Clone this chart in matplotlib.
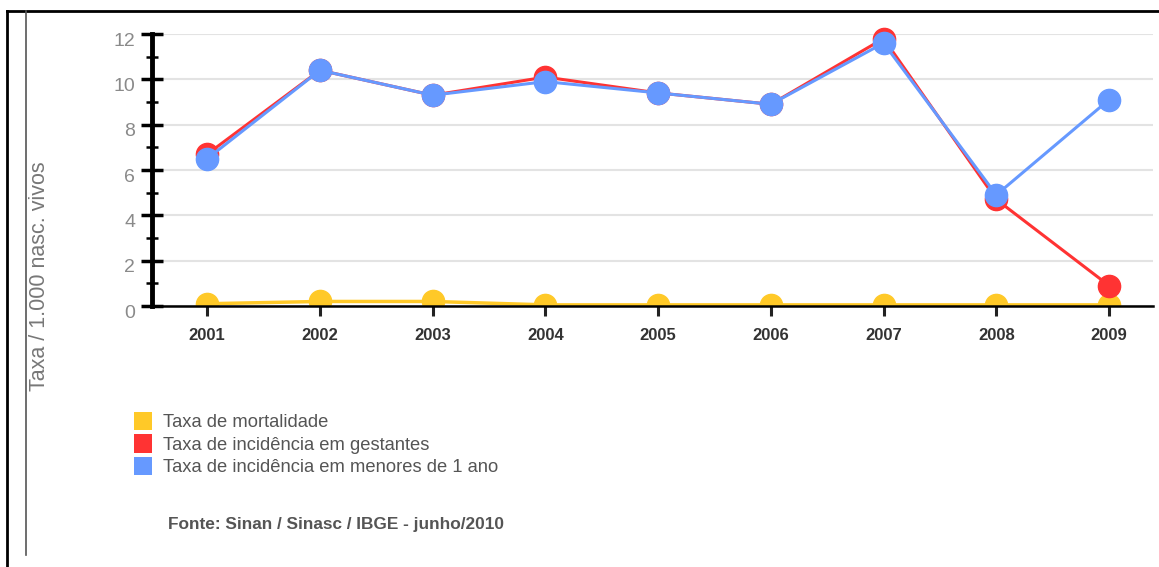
import matplotlib
matplotlib.use("Agg")
import matplotlib.pyplot as plt
from matplotlib.lines import Line2D
from matplotlib.patches import Patch
from matplotlib.ticker import MultipleLocator
from matplotlib.transforms import ScaledTranslation

plt.rcParams['font.family'] = ['Liberation Sans', 'DejaVu Sans']

years = [2001, 2002, 2003, 2004, 2005, 2006, 2007, 2008, 2009]
mortalidade = [0.1, 0.2, 0.2, 0.05, 0.05, 0.05, 0.05, 0.05, 0.05]
gestantes = [6.7, 10.4, 9.3, 10.1, 9.4, 8.9, 11.8, 4.7, 0.9]
menores = [6.5, 10.4, 9.3, 9.9, 9.4, 8.9, 11.6, 4.9, 9.1]
labels = ["Taxa de mortalidade", "Taxa de incidência em gestantes",
          "Taxa de incidência em menores de 1 ano"]
y_label = "Taxa / 1.000 nasc. vivos"
source = "Fonte: Sinan / Sinasc / IBGE - junho/2010"

YELLOW = "#FFC928"
RED = "#FF3333"
BLUE = "#6699FF"

W, H = 1159, 567
fig = plt.figure(figsize=(W / 100, H / 100), dpi=100)

def fx(px):
    return px / W

def fy(py):
    return 1 - py / H

ax = fig.add_axes([fx(152), fy(306), fx(1153) - fx(152), fy(34) - fy(306)])
ax.set_xlim(2000.51, 2009.39)
ax.set_ylim(0, 12)

ax.yaxis.set_major_locator(MultipleLocator(2))
ax.yaxis.set_minor_locator(MultipleLocator(1))
ax.grid(axis='y', which='major', color='#e3e3e3', linewidth=1.5, zorder=0)
ax.set_axisbelow(True)

ax.plot(years, mortalidade, color=YELLOW, lw=2.5, marker='o', ms=16, zorder=3)
ax.plot(years, gestantes, color=RED, lw=2.2, marker='o', ms=16, zorder=4, clip_on=False)
ax.plot(years, menores, color=BLUE, lw=2.2, marker='o', ms=16, zorder=5, clip_on=False)

for s in ['top', 'right']:
    ax.spines[s].set_visible(False)
ax.spines['left'].set_linewidth(3.5)
ax.spines['left'].set_color('black')
ax.spines['bottom'].set_linewidth(1.8)
ax.spines['bottom'].set_color('black')
ax.spines['bottom'].set_zorder(6)

ax.set_xticks(years)
ax.set_xticklabels([str(y) for y in years], fontsize=12, fontweight='bold', color='#333333')
ax.tick_params(axis='x', direction='inout', length=14, width=2.2, color='#222222', pad=9)
ax.tick_params(axis='y', which='major', direction='inout', length=16, width=2.5,
               color='black', labelsize=14, labelcolor='#8a8a8a', pad=4)
ax.tick_params(axis='y', which='minor', direction='inout', length=9, width=1.8, color='black')
shift = ScaledTranslation(0, -5 / 100, fig.dpi_scale_trans)
for tick in ax.yaxis.get_major_ticks():
    tick.label1.set_transform(tick.label1.get_transform() + shift)

fig.text(fx(40), fy(276), y_label, rotation=90, ha='center', va='center',
         fontsize=15.5, color='#777777')

handles = [Patch(facecolor=c, edgecolor='none') for c in (YELLOW, RED, BLUE)]
fig.legend(handles, labels, loc='upper left', bbox_to_anchor=(fx(134), fy(412)),
           frameon=False, fontsize=13.2, handlelength=1.0, handleheight=1.15,
           handletextpad=0.6, labelspacing=0.17, borderaxespad=0, borderpad=0,
           labelcolor='#555555')

fig.text(fx(168), fy(525), source, ha='left', va='center', fontsize=12.4,
         fontweight='bold', color='#555555')

fig.add_artist(Line2D([fx(7), fx(1159)], [fy(11), fy(11)], color='black', lw=2))
fig.add_artist(Line2D([fx(7), fx(7)], [fy(11), fy(567)], color='black', lw=2))
fig.add_artist(Line2D([fx(26), fx(26)], [fy(11), fy(555)], color='#555555', lw=1.2))

fig.savefig("out.png", dpi=100)
